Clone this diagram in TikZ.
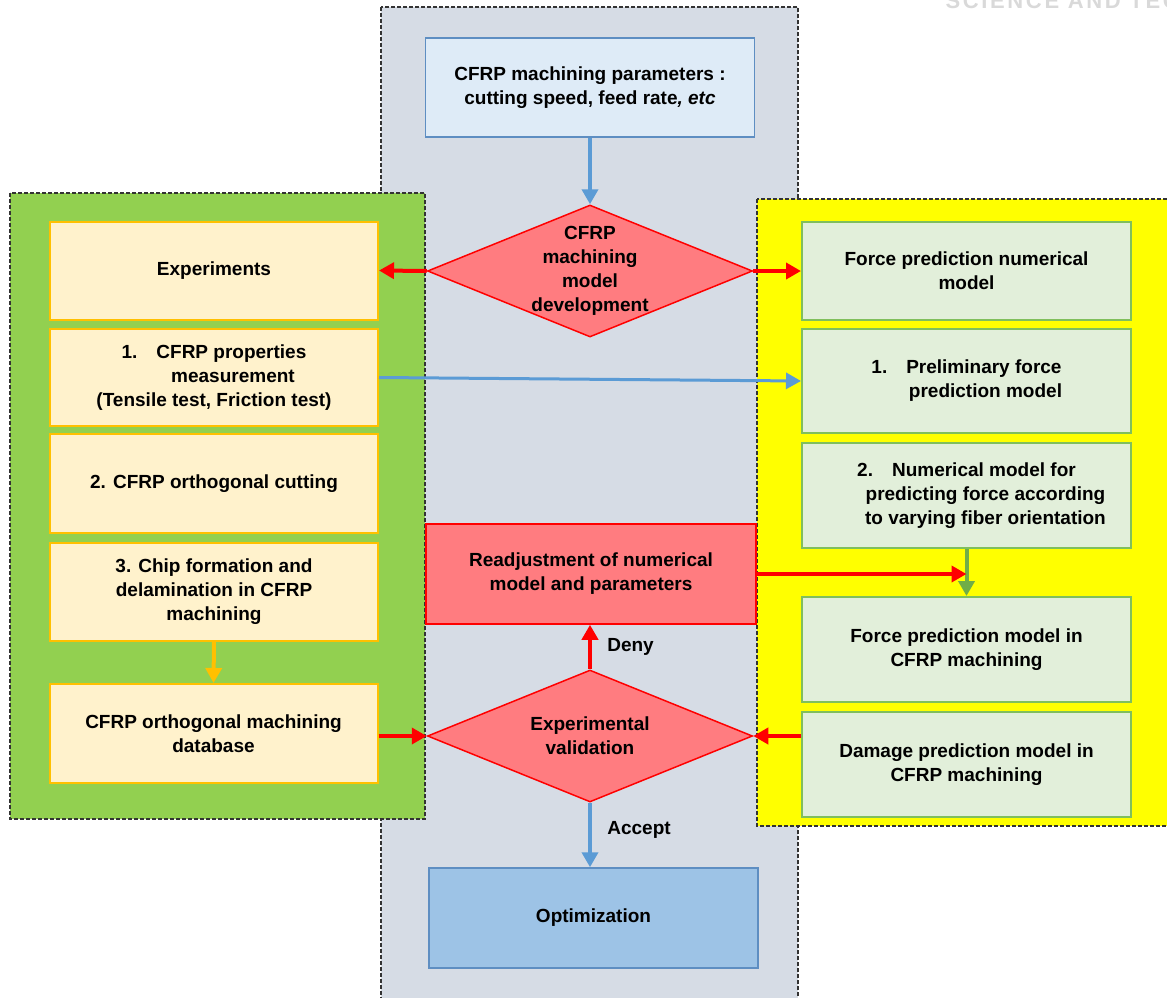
\documentclass[tikz,border=0pt]{standalone}
\usepackage{fontspec}
\setmainfont{Liberation Sans}
\usepackage{xcolor}
\usetikzlibrary{positioning,arrows.meta,shapes.geometric}
\definecolor{panelgray}{HTML}{D6DCE5}
\definecolor{panelgreen}{HTML}{92D050}
\definecolor{panelyellow}{HTML}{FFFF00}
\definecolor{expfill}{HTML}{FFF2CC}
\definecolor{expline}{HTML}{FFC000}
\definecolor{modfill}{HTML}{E2EFDA}
\definecolor{modline}{HTML}{80BF5C}
\definecolor{parfill}{HTML}{DEEBF7}
\definecolor{parline}{HTML}{5E8EC2}
\definecolor{optfill}{HTML}{9DC3E6}
\definecolor{decfill}{HTML}{FF7C80}
\definecolor{flowblue}{HTML}{5B9BD5}
\definecolor{flowgreen}{HTML}{70AD47}
\tikzset{
  panel/.style={draw=black!80,dash pattern=on 4pt off 2pt,line width=1.3pt},
  expbox/.style={draw=expline,fill=expfill,line width=2pt,minimum width=328pt,align=center},
  modbox/.style={draw=modline,fill=modfill,line width=2pt,minimum width=329pt,align=center},
  parbox/.style={draw=parline,line width=1.5pt,align=center},
  decbox/.style={draw=red,fill=decfill,line width=1.5pt,align=center},
  dia/.style={decbox,shape=diamond,inner sep=0pt,minimum width=325pt,minimum height=132pt},
  flow/.style={line width=4pt,-{Triangle[length=15pt,width=16pt]}},
}

\begin{document}
\begin{tikzpicture}[x=1pt,y=-1pt,every node/.style={font=\fontsize{19}{24}\selectfont\bfseries}]
  \useasboundingbox (0,0) rectangle (1167,998);
  % watermark, cut by the page edge
  \node[anchor=base west,text=black!15,font=\fontsize{22}{22}\selectfont\bfseries\addfontfeature{LetterSpace=12}] (wm) at (942,9) {SCIENCE AND TECHNOLOGY};
  % panels
  \draw[panel,fill=panelgray] (381,7) rectangle (798,1010);
  \draw[panel,fill=panelgreen] (10,193) rectangle (425,819);
  \draw[panel,fill=panelyellow] (757,199) rectangle (1175,826);
  % centre column
  \node[parbox,fill=parfill,minimum width=329pt,minimum height=99pt] (par) at (590,87.5) {CFRP machining parameters :\\cutting speed, feed rate\textit{, etc}};
  \node[dia] (dev) at (590,271) {};
  \node[align=center] (devtxt) at (dev) {CFRP\\machining\\model\\development};
  \node[decbox,minimum width=330pt,minimum height=100pt] (readj) at (591,574) {Readjustment of numerical\\model and parameters};
  \node[dia] (val) at (590,736) {};
  \node[align=center] (valtxt) at (val) {Experimental\\validation};
  \node[parbox,fill=optfill,minimum width=329pt,minimum height=100pt] (opt) at (593.5,918) {Optimization};
  % experiments (left)
  \node[expbox,minimum height=98pt] (exp) at (214,270.5) {Experiments};
  \node[expbox,minimum height=97pt] (props) at (214,377.5) {1.\hspace{1em}CFRP properties\\\hspace*{2em}measurement\\(Tensile test, Friction test)};
  \node[expbox,minimum height=99pt] (cut) at (214,483.5) {2. CFRP orthogonal cutting};
  \node[expbox,minimum height=98pt] (chip) at (214,592) {3. Chip formation and\\delamination in CFRP\\machining};
  \node[expbox,minimum height=99pt] (db) at (213.5,733.5) {CFRP orthogonal machining\\database};
  % numerical models (right)
  \node[modbox,minimum height=98pt] (fnm) at (966.5,271) {Force prediction numerical\\model};
  \node[modbox,minimum height=104pt] (prelim) at (966.5,381) {1.\hspace{1em}Preliminary force\\\hspace*{2em}prediction model};
  \node[modbox,minimum height=105pt] (num) at (966.5,495.5) {2.\hspace{1em}Numerical model for\\\hspace*{2em}predicting force according\\\hspace*{2em}to varying fiber orientation};
  \node[modbox,minimum height=105pt] (fpm) at (966.5,649.5) {Force prediction model in\\CFRP machining};
  \node[modbox,minimum height=105pt] (dmg) at (966.5,764.5) {Damage prediction model in\\CFRP machining};
  % connectors
  \draw[flow,flowblue] (par.south) -- (dev.north);
  \draw[flow,red] (dev.west) -- (exp.east);
  \draw[flow,red] (dev.east) -- (fnm.west);
  \draw[flow,flowblue,line width=3pt] (props.east) -- (prelim.west);
  \draw[flow,expline] (chip.south) -- (db.north);
  \draw[flow,flowgreen] (num.south) -- (fpm.north);
  \draw[flow,red] (readj.east) -- (readj.east -| fpm.north);
  \draw[flow,red] (db.east |- val.west) -- (val.west);
  \draw[flow,red] (dmg.west |- val.east) -- (val.east);
  \draw[flow,red] (val.north) -- node[right=12pt,text=black] (deny) {Deny} (val.north |- readj.south);
  \draw[flow,flowblue] (val.south) -- node[right=12pt,pos=0.42,text=black] (acc) {Accept} (val.south |- opt.north);
\end{tikzpicture}
\end{document}
